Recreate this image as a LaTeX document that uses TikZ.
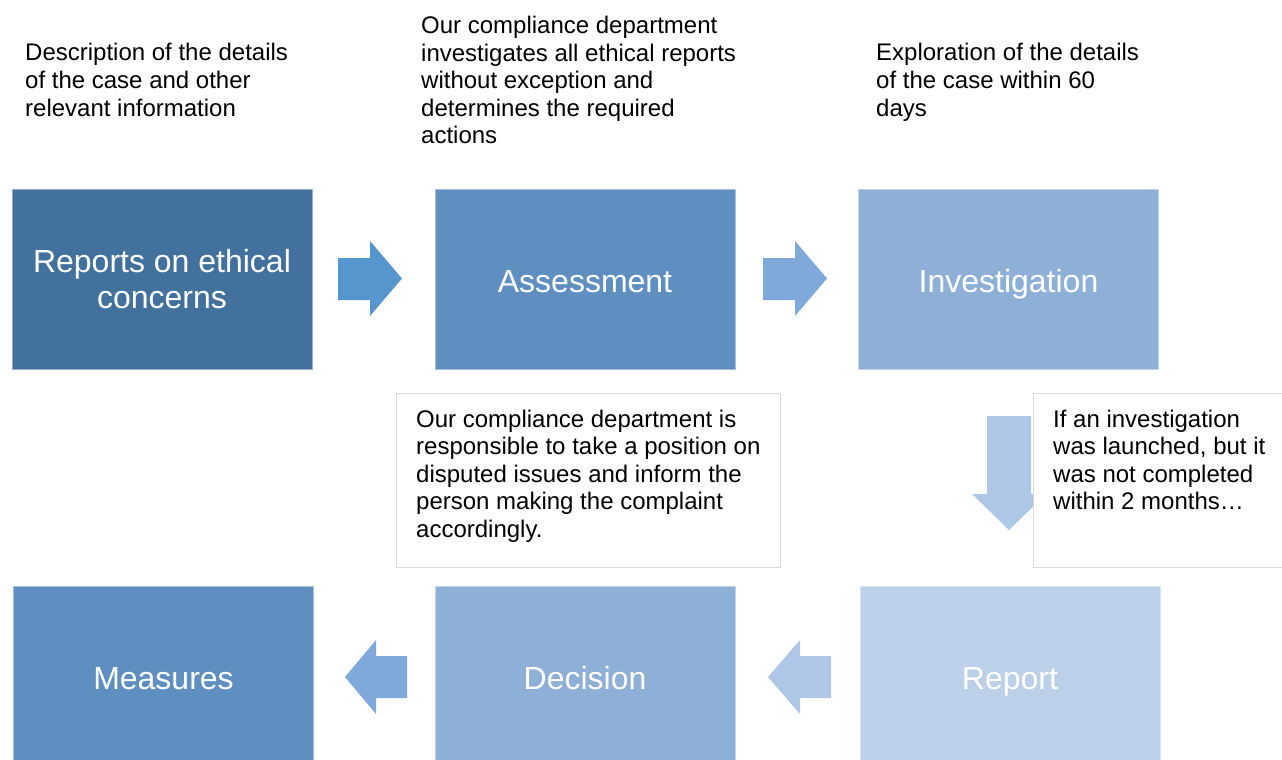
\documentclass[tikz,border=0pt]{standalone}
\usepackage{fontspec}
\setmainfont{Liberation Sans}
\definecolor{cA}{HTML}{41719C}
\definecolor{cB}{HTML}{5F8FC0}
\definecolor{cC}{HTML}{8EAFD6}
\definecolor{cD}{HTML}{BCD0E9}
\definecolor{arA}{HTML}{5596CE}
\definecolor{arB}{HTML}{7FA9DA}
\definecolor{arC}{HTML}{AEC7E6}
\definecolor{noteline}{HTML}{D9D9D9}
\begin{document}
\begin{tikzpicture}[x=1pt,y=-1pt,
  stepbox/.style={rectangle, minimum width=300pt, minimum height=180pt, inner sep=0pt,
    text=white, align=center, font=\fontsize{32}{36}\selectfont, line width=1pt},
  oneline/.style={text height=27pt, text depth=0pt},
  notetext/.style={anchor=base west, inner sep=0pt, align=left, text=black,
    font=\fontsize{24}{27.5}\selectfont},
  notebox/.style={draw=noteline, fill=white, line width=1pt}]
\useasboundingbox (0,0) rectangle (1282,760);
\fill[white] (0,0) rectangle (1282,760);

% step boxes
\node[stepbox, fill=cA, draw=cA!55!white] (rep) at (162,279) {Reports on ethical\\concerns};
\node[stepbox, oneline, fill=cB, draw=cB!55!white] (ass) at (585,279) {Assessment};
\node[stepbox, oneline, fill=cC, draw=cC!55!white] (inv) at (1008.5,279) {Investigation};
\node[stepbox, oneline, fill=cB, draw=cB!55!white] (mea) at (163.5,676) {Measures};
\node[stepbox, oneline, fill=cC, draw=cC!55!white] (dec) at (585,676) {Decision};
\node[stepbox, oneline, fill=cD, draw=cD!55!white] (rpt) at (1010,676) {Report};

% block arrows
\fill[arA] (338,258) -- (370,258) -- (370,241) -- (402,278.5) -- (370,316) -- (370,300) -- (338,300) -- cycle;
\fill[arB] (763,258) -- (795,258) -- (795,241) -- (827,278.5) -- (795,316) -- (795,300) -- (763,300) -- cycle;
\fill[arC] (987,416) -- (1031,416) -- (1031,494) -- (1046,494) -- (1009,530) -- (972,494) -- (987,494) -- cycle;
\fill[arC] (831,656) -- (800,656) -- (800,640) -- (768,677) -- (800,714) -- (800,698) -- (831,698) -- cycle;
\fill[arB] (407,656) -- (376,656) -- (376,640) -- (345,677) -- (376,714) -- (376,698) -- (407,698) -- cycle;

% top annotations (base = baseline of the last line)
\node[notetext] (t1) at (25,116) {Description of the details\\of the case and other\\relevant information};
\node[notetext] (t2) at (421,143.5) {Our compliance department\\investigates all ethical reports\\without exception and\\determines the required\\actions};
\node[notetext] (t3) at (876,116) {Exploration of the details\\of the case within 60\\days};

% note boxes
\draw[notebox] (396,393) rectangle (780,567);
\node[notetext] (n1) at (416,537) {Our compliance department is\\responsible to take a position on\\disputed issues and inform the\\person making the complaint\\accordingly.};
\draw[notebox] (1033,393) rectangle (1290,567);
\node[notetext] (n2) at (1053,509.5) {If an investigation\\was launched, but it\\was not completed\\within 2 months\ldots};
\end{tikzpicture}
\end{document}
